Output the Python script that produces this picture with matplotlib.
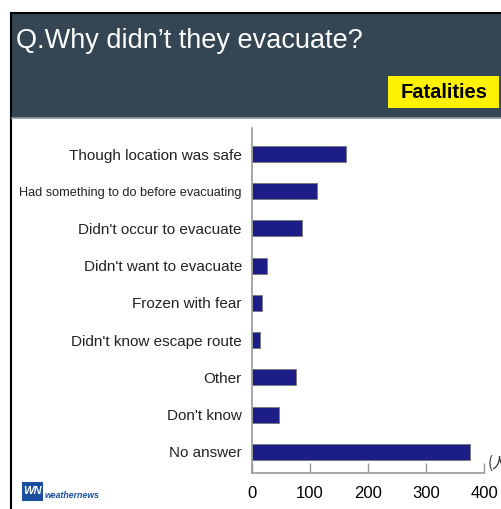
import matplotlib.pyplot as plt
from matplotlib.patches import Rectangle
from matplotlib.lines import Line2D

# survey answers, fatalities (persons)
reasons = [
    "Though location was safe",
    "Had something to do before evacuating",
    "Didn't occur to evacuate",
    "Didn't want to evacuate",
    "Frozen with fear",
    "Didn't know escape route",
    "Other",
    "Don't know",
    "No answer",
]
counts = [163, 113, 86, 26, 18, 14, 76, 47, 375]
xticks = [0, 100, 200, 300, 400]

W, H = 501, 509
fig = plt.figure(figsize=(W / 100, H / 100), dpi=100)
fig.patch.set_facecolor('white')


def fx(px):
    return px / W


def fy(py):
    return 1 - py / H


# header band
fig.patches.append(Rectangle((fx(11), fy(118)), fx(W), 105 / H, transform=fig.transFigure,
                             facecolor='#344654', edgecolor='none', zorder=0))
fig.add_artist(Line2D([fx(11), 1], [fy(13), fy(13)], color='black', lw=1.5, transform=fig.transFigure))
fig.add_artist(Line2D([fx(11), fx(11)], [0, fy(13)], color='black', lw=1.5, transform=fig.transFigure))
fig.add_artist(Line2D([fx(12), 1], [fy(118), fy(118)], color='#8a96a0', lw=1.2, transform=fig.transFigure))
fig.text(fx(16), fy(41), "Q.Why didn\u2019t they evacuate?", color='white', fontsize=19.5,
         family='Liberation Sans', va='center', ha='left')

fig.patches.append(Rectangle((fx(388), fy(108)), fx(111), 32 / H, transform=fig.transFigure,
                             facecolor='#fff200', edgecolor='none', zorder=1))
fig.text(fx(444), fy(92), "Fatalities", color='black', fontsize=14.5, fontweight='bold',
         family='Liberation Sans', va='center', ha='center')

# bar chart
ax = fig.add_axes([fx(251.7), fy(473), fx(484.3) - fx(251.7), (473 - 128) / H])
pos = list(range(len(reasons)))
ax.barh(pos, counts, height=0.43, color='#1d1d87', edgecolor='#777777', linewidth=0.6)
ax.set_xlim(0, 400)
ax.set_ylim(8.57, -0.7)
ax.set_yticks(pos)
ax.set_yticklabels(reasons, fontsize=11, family='Liberation Sans', color='#222222')
# the long label is set smaller so it fits the margin
ax.get_yticklabels()[1].set_fontsize(9.2)
ax.set_xticks(xticks)
ax.set_xticklabels([str(t) for t in xticks], fontsize=12, family='Liberation Sans')
ax.tick_params(axis='y', length=0, pad=7)
ax.tick_params(axis='x', direction='in', length=7, color='#999999', width=1, pad=9)
for s in ['top', 'right']:
    ax.spines[s].set_visible(False)
for s in ['left', 'bottom']:
    ax.spines[s].set_color('#999999')
    ax.spines[s].set_linewidth(1.2)

fig.text(fx(488), fy(463), "(人)", fontsize=11, color='#333333', va='center', ha='left',
         family=['Noto Sans CJK JP', 'DejaVu Sans'], style='italic')

# logo
fig.patches.append(Rectangle((fx(22), fy(501)), fx(21), 19 / H, transform=fig.transFigure,
                             facecolor='#1b4fa0', edgecolor='none'))
fig.text(fx(32.5), fy(491.5), "WN", color='white', fontsize=8, fontweight='bold', style='italic',
         family='Liberation Sans', ha='center', va='center')
fig.text(fx(45), fy(496), "weathernews", color='#1b4fa0', fontsize=6.3, fontweight='bold', style='italic',
         family='Liberation Sans', ha='left', va='center')

fig.savefig('out.png', dpi=100)
